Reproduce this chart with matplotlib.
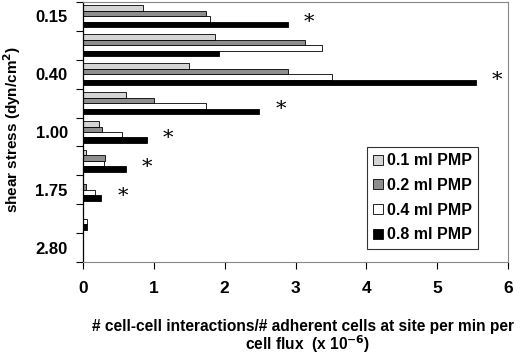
import matplotlib
matplotlib.use('Agg')
import matplotlib.pyplot as plt
import numpy as np

plt.rcParams['font.family'] = ['Liberation Sans', 'DejaVu Sans']
plt.rcParams['font.weight'] = 'bold'

# shear stress categories (only every other one is labelled)
categories = ['0.15', '', '0.40', '', '1.00', '', '1.75', '', '2.80']

# interaction rate per PMP dose
pmp_01 = [0.85, 1.87, 1.49, 0.60, 0.22, 0.04, 0.00, 0.00, 0.00]
pmp_02 = [1.74, 3.13, 2.89, 1.00, 0.27, 0.31, 0.04, 0.00, 0.00]
pmp_04 = [1.79, 3.38, 3.52, 1.73, 0.55, 0.29, 0.17, 0.05, 0.00]
pmp_08 = [2.89, 1.92, 5.55, 2.49, 0.90, 0.60, 0.26, 0.06, 0.00]

series_labels = ['0.1 ml PMP', '0.2 ml PMP', '0.4 ml PMP', '0.8 ml PMP']
colors = ['#d4d4d4', '#8e8e8e', '#ffffff', '#000000']

# groups marked as significant
significant = [True, False, True, True, True, True, True, False, False]

fig = plt.figure(figsize=(5.2, 3.54), dpi=100)
ax = fig.add_axes([83 / 520, 1 - 262 / 354, 425 / 520, 260 / 354])

y = np.arange(len(categories))
h = 0.19
series = [pmp_01, pmp_02, pmp_04, pmp_08]
for i, vals in enumerate(series):
    offset = (i - 1.5) * h
    ax.barh(y + offset, vals, height=h, color=colors[i], edgecolor='black',
            linewidth=0.6, label=series_labels[i])

# asterisks after the 0.8 ml bar
for k, star in enumerate(significant):
    if star:
        ax.text(pmp_08[k] + 0.3, y[k] + 0.22, '*', fontsize=15,
                family='DejaVu Serif', fontweight='normal',
                ha='center', va='center')

ax.set_xlim(0, 6)
ax.set_ylim(len(categories) - 0.5, -0.5)
ax.set_xticks(range(7))
ax.set_xticklabels([str(v) for v in range(7)], fontsize=12.5, fontweight='bold')

# tick marks at category boundaries, labels on every other category
ax.set_yticks(np.arange(-0.5, len(categories) + 0.5, 1))
ax.set_yticklabels([])
ax.set_yticks(y[::2], minor=True)
ax.set_yticklabels(categories[::2], minor=True, fontsize=12, fontweight='bold')
ax.tick_params(axis='y', which='major', length=5, width=0.8, direction='out')
ax.tick_params(axis='y', which='minor', length=0, pad=11)
ax.tick_params(axis='x', length=5, width=0.8, direction='out', pad=9)

for side in ['top', 'right', 'bottom']:
    ax.spines[side].set_color('#888888')
    ax.spines[side].set_linewidth(0.8)
ax.spines['left'].set_color('black')
ax.spines['left'].set_linewidth(0.9)

leg = ax.legend(loc='upper left', bbox_to_anchor=(0.668, 0.442),
                fontsize=11.5, frameon=True, fancybox=False,
                handlelength=0.6, handleheight=0.6, handletextpad=0.25,
                labelspacing=0.6, borderpad=0.4, borderaxespad=0)
leg.get_frame().set_edgecolor('black')
leg.get_frame().set_linewidth(0.8)
for t in leg.get_texts():
    t.set_fontweight('bold')

fig.text(12 / 520, 1 - 130 / 354, 'shear stress (dyn/cm$^\\mathbf{2}$)',
         rotation=90, ha='center', va='center', fontsize=11, fontweight='bold')
fig.text(303 / 520, 1 - 326 / 354,
         '# cell-cell interactions/# adherent cells at site per min per',
         ha='center', va='center', fontsize=11.2, fontweight='bold')
fig.text(308 / 520, 1 - 344 / 354, 'cell flux  (x 10$^\\mathbf{-6}$)',
         ha='center', va='center', fontsize=11.2, fontweight='bold')

fig.savefig('out.png', dpi=100)
